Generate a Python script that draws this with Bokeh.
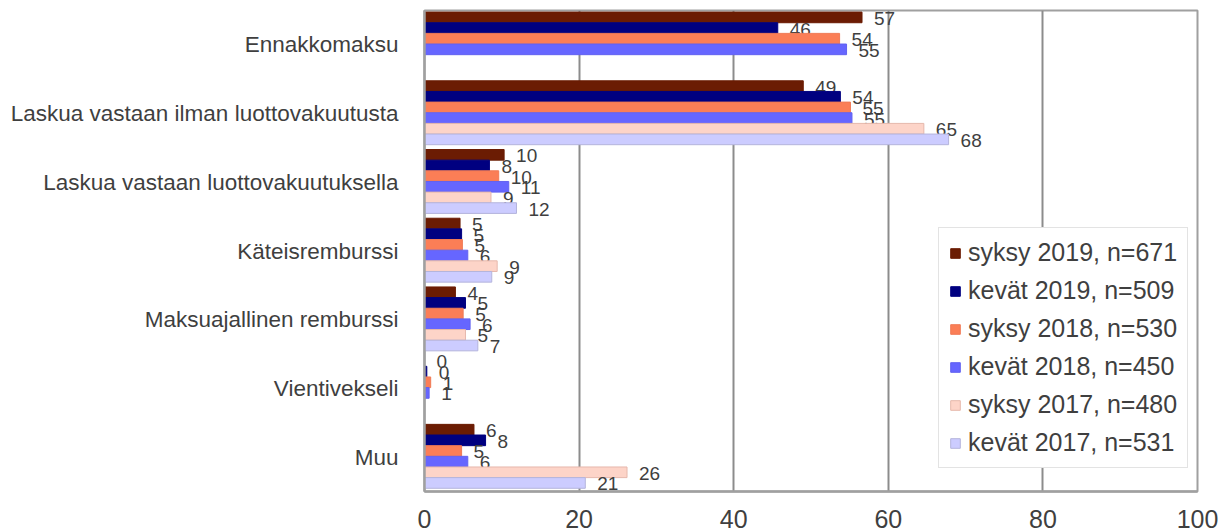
from bokeh.plotting import figure
from bokeh.models import (FactorRange, Range1d, FixedTicker, ColumnDataSource,
                          Legend, LegendItem)
from bokeh.transform import dodge
from bokeh.embed import file_html
from bokeh.resources import INLINE
from bokeh.core.properties import value

# ---------------- data ----------------
categories = [
    "Ennakkomaksu",
    "Laskua vastaan ilman luottovakuutusta",
    "Laskua vastaan luottovakuutuksella",
    "Käteisremburssi",
    "Maksuajallinen remburssi",
    "Vientivekseli",
    "Muu",
]

series_names = [
    "syksy 2019, n=671",
    "kevät 2019, n=509",
    "syksy 2018, n=530",
    "kevät 2018, n=450",
    "syksy 2017, n=480",
    "kevät 2017, n=531",
]

syksy_2019 = [56.6, 49.0, 10.3, 4.6, 4.0, 0.0, 6.4]
kevat_2019 = [45.7, 53.8, 8.4, 4.8, 5.3, 0.3, 7.9]
syksy_2018 = [53.7, 55.1, 9.6, 4.9, 5.0, 0.8, 4.8]
kevat_2018 = [54.6, 55.3, 10.9, 5.6, 5.9, 0.6, 5.6]
syksy_2017 = [None, 64.6, 8.6, 9.4, 5.3, None, 26.2]
kevat_2017 = [None, 67.8, 11.9, 8.7, 6.9, None, 20.8]

series_values = [syksy_2019, kevat_2019, syksy_2018, kevat_2018, syksy_2017, kevat_2017]

x_ticks = [0, 20, 40, 60, 80, 100]

# ---------------- style ----------------
fill_colors = ["#6b1c03", "#000080", "#fb7e56", "#6666ff", "#fdd4c8", "#ccccff"]
line_colors = ["#6b1c03", "#000080", "#f07a55", "#6262f0", "#e6b8ac", "#b4b4dc"]
FONT = "Liberation Sans"
TXT = "#3f3f3f"
GRID = "#8c8c8c"

bar_h = 0.155

p = figure(
    width=1222, height=532,
    y_range=FactorRange(factors=categories[::-1]),
    x_range=Range1d(0, 100),
    output_backend="svg", toolbar_location=None,
    min_border_left=424, min_border_right=25, min_border_top=10, min_border_bottom=41,
    background_fill_color="white", border_fill_color="white",
)

items = []
for i, (name, vals) in enumerate(zip(series_names, series_values)):
    cats = [c for c, v in zip(categories, vals) if v is not None]
    xs = [v for v in vals if v is not None]
    src = ColumnDataSource(dict(cat=cats, val=xs, lab=[f"{v:.0f}" for v in xs]))
    off = (2.5 - i) * bar_h + 0.012
    r = p.hbar(y=dodge("cat", off, range=p.y_range), right="val", left=0,
               height=bar_h, source=src,
               fill_color=fill_colors[i], line_color=line_colors[i], line_width=1)
    p.text(x="val", y=dodge("cat", off, range=p.y_range), text="lab", source=src,
           x_offset=12, y_offset=1, text_align="left", text_baseline="middle",
           text_font=value(FONT), text_font_size="19px", text_color=TXT)
    items.append(LegendItem(label=name, renderers=[r]))

legend = Legend(items=items, location=(514, 23))
legend.label_text_font = FONT
legend.label_text_font_size = "25px"
legend.label_text_color = TXT
legend.glyph_width = 12
legend.glyph_height = 12
legend.label_standoff = 7
legend.label_height = 24
legend.spacing = 9
legend.padding = 10
legend.margin = 0
legend.border_line_color = "#c8c8c8"
legend.border_line_width = 1
legend.background_fill_color = "white"
legend.background_fill_alpha = 1.0
p.add_layout(legend)

# axes
p.xaxis.ticker = FixedTicker(ticks=x_ticks)
p.xaxis.major_label_text_font = FONT
p.xaxis.major_label_text_font_size = "25px"
p.xaxis.major_label_text_color = TXT
p.xaxis.major_label_standoff = 12
p.xaxis.major_tick_line_color = None
p.xaxis.minor_tick_line_color = None
p.xaxis.axis_line_color = "#a0a0a0"
p.xaxis.axis_line_width = 2.5

p.yaxis.major_label_text_font = FONT
p.yaxis.major_label_text_font_size = "22.5px"
p.yaxis.major_label_text_color = TXT
p.yaxis.major_label_standoff = 20
p.yaxis.major_tick_line_color = None
p.yaxis.minor_tick_line_color = None
p.yaxis.axis_line_color = "#a0a0a0"
p.yaxis.axis_line_width = 2.5

p.xgrid.ticker = FixedTicker(ticks=x_ticks)
p.xgrid.grid_line_color = GRID
p.xgrid.grid_line_width = 2
p.ygrid.grid_line_color = None

p.outline_line_color = "#a0a0a0"
p.outline_line_width = 2

open("out.html", "w").write(file_html(p, INLINE))
